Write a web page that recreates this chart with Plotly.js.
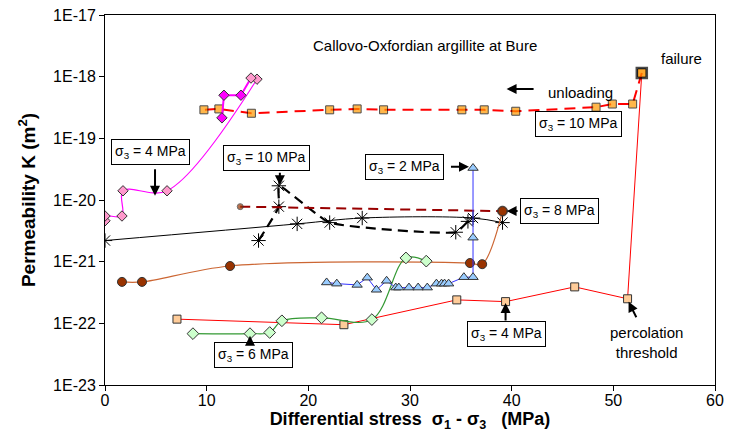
<!DOCTYPE html>
<html><head><meta charset="utf-8">
<script src="https://cdn.plot.ly/plotly-3.0.1.min.js"></script>
<style>html,body{margin:0;padding:0;background:#fff}</style>
</head><body><div id="chart" style="width:729px;height:443px"></div>
<script>
// values: x = differential stress (MPa), y = permeability K (m2)
const unloadX = [52.8, 51.9, 49.9, 48.3, 40.4, 37.3, 35.1, 27.4, 24.8, 22.1, 14.4, 11.2, 9.73];
const unloadY = [1.15e-18, 3.6e-19, 3.6e-19, 3.2e-19, 2.75e-19, 2.9e-19, 2.9e-19, 2.9e-19, 3.0e-19, 2.9e-19, 2.55e-19, 3.0e-19, 2.9e-19];
const s4redX = [7.08, 23.5, 34.6, 39.4, 46.2, 51.4, 52.8];
const s4redY = [1.17e-22, 9.5e-23, 2.4e-22, 2.25e-22, 3.9e-22, 2.5e-22, 1.15e-18];
const s4pinkX = [0, 0, 1.67, 1.77, 6.1, 14.95];
const s4pinkY = [4.6e-21, 5.5e-21, 5.5e-21, 1.41e-20, 1.41e-20, 9.1e-19];
const s4magX = [11.5, 11.7, 13.37, 14.36];
const s4magY = [2.15e-19, 5.0e-19, 5.0e-19, 9.5e-19];
const s10solidX = [0, 18.9, 25.3, 36.2, 39.1];
const s10solidY = [2.2e-21, 4.1e-21, 5.1e-21, 5.1e-21, 4.3e-21];
const s10dashX = [15.1, 17.1, 17.1, 22.1, 34.5, 35.7];
const s10dashY = [2.2e-21, 7.8e-21, 1.7e-20, 4.3e-21, 3.0e-21, 4.5e-21];
const s8X = [13.3, 39.1];
const s8Y = [7.8e-21, 6.6e-21];
const brownX = [1.67, 3.64, 12.3, 35.9, 37.1, 39.1];
const brownY = [4.7e-22, 4.7e-22, 8.5e-22, 9.5e-22, 9.1e-22, 6.6e-21];
const greenX = [8.65, 14.26, 16.2, 17.4, 21.3, 26.25, 29.6, 31.6];
const greenY = [6.8e-23, 6.8e-23, 7.1e-23, 1.1e-22, 1.23e-22, 1.15e-22, 1.15e-21, 1.02e-21];
const blueX = [21.8, 22.8, 24.8, 25.8, 26.7, 27.7, 28.6, 28.9, 29.9, 30.8, 31.7, 32.6, 33.1, 33.4, 33.8, 35.3, 36.2, 36.2, 36.2];
const blueY = [4.6e-22, 4.4e-22, 4.2e-22, 5.5e-22, 3.5e-22, 4.9e-22, 3.8e-22, 3.8e-22, 3.8e-22, 3.8e-22, 3.8e-22, 4.4e-22, 4.4e-22, 4.4e-22, 4.4e-22, 5.6e-22, 5.6e-22, 2.45e-21, 3.3e-20];
const yTickVals = [1e-23, 1e-22, 1e-21, 1e-20, 1e-19, 1e-18, 1e-17];
const yTickText = ['1E-23', '1E-22', '1E-21', '1E-20', '1E-19', '1E-18', '1E-17'];
const xTickVals = [0, 10, 20, 30, 40, 50, 60];

const dia = (fill, size) => ({symbol: 'diamond', size: size || 8, color: fill, line: {color: '#333', width: 1}});
const traces = [
  {x: s4redX, y: s4redY, mode: 'lines+markers', line: {color: '#FF0000', width: 1},
   marker: {symbol: 'square', size: 8, color: '#FFCC99', line: {color: '#333', width: 1}}},
  {x: unloadX, y: unloadY, mode: 'lines+markers', line: {color: '#FF0000', width: 2, dash: '11px,7px'},
   marker: {symbol: 'square', size: [10, 8, 8, 8, 8, 8, 8, 8, 8, 8, 8, 8, 8], color: '#FF9900',
     line: {color: '#000', width: [2.5, 1, 1, 1, 1, 1, 1, 1, 1, 1, 1, 1, 1]}}},
  {x: s4pinkX, y: s4pinkY, mode: 'lines+markers', line: {color: '#FF00FF', width: 1.2, shape: 'spline'},
   marker: dia('#FF99CC')},
  {x: s4magX, y: s4magY, mode: 'lines+markers', line: {color: '#FF00FF', width: 2},
   marker: {symbol: 'diamond', size: 8, color: ['#FF00FF', '#FF00FF', '#FF00FF', '#FF99CC'], line: {color: '#333', width: 1}}},
  {x: s10solidX, y: s10solidY, mode: 'lines+markers', line: {color: '#000', width: 1, shape: 'spline'},
   marker: {symbol: 'asterisk-open', size: 12, line: {color: '#000', width: 1}}},
  {x: s10dashX, y: s10dashY, mode: 'lines+markers', line: {color: '#000', width: 2.2, dash: '10px,6px', shape: 'spline', smoothing: 0.4},
   marker: {symbol: 'asterisk-open', size: 12, line: {color: '#000', width: 1}}},
  {x: s8X, y: s8Y, mode: 'lines+markers', line: {color: '#990000', width: 2, dash: '10px,6px'},
   marker: {symbol: 'circle', size: [6, 10], color: '#993300', line: {color: '#333', width: 1}}},
  {x: brownX, y: brownY, mode: 'lines+markers', line: {color: '#CC6633', width: 1.2, shape: 'spline'},
   marker: {symbol: 'circle', size: 9, color: '#993300', line: {color: '#333', width: 1}}},
  {x: greenX, y: greenY, mode: 'lines+markers', line: {color: '#339933', width: 1.2, shape: 'spline'},
   marker: dia('#CCFFCC', 9)},
  {x: blueX, y: blueY, mode: 'lines+markers', line: {color: '#3333FF', width: 1},
   marker: {symbol: 'triangle-up', size: 9, color: '#99CCFF', line: {color: '#333', width: 1}}}
];

const FAM = 'Liberation Sans, Arial, sans-serif';
const F = {family: FAM, size: 14, color: '#000'};
const box = (x, y, t) => ({x: x, y: y, xref: 'x', yref: 'y', text: t, showarrow: false, font: F,
  bgcolor: '#fff', bordercolor: '#000', borderwidth: 1, borderpad: 3});
const arr = (x, y, ax, ay) => ({x: x, y: y, xref: 'x', yref: 'y', ax: ax, ay: ay, text: ' ', showarrow: true,
  arrowhead: 2, arrowsize: 1, arrowwidth: 2, arrowcolor: '#000', font: {size: 2}});
const txt = (x, y, t, sz) => ({x: x, y: y, xref: 'x', yref: 'y', text: t, showarrow: false,
  font: {family: FAM, size: sz || 15, color: '#000'}});

const annotations = [
  txt(31.5, -17.49, 'Callovo-Oxfordian argillite at Bure', 15),
  txt(56.7, -17.71, 'failure', 15),
  txt(46.8, -18.25, 'unloading', 15),
  txt(53.3, -22.31, 'percolation<br>threshold', 15),
  box(4.52, -19.22, 'σ<sub>3</sub> = 4 MPa'),
  box(15.9, -19.32, 'σ<sub>3</sub> = 10 MPa'),
  box(46.6, -18.77, 'σ<sub>3</sub> = 10 MPa'),
  box(29.5, -19.46, 'σ<sub>3</sub> = 2 MPa'),
  box(44.7, -20.18, 'σ<sub>3</sub> = 8 MPa'),
  box(14.65, -22.51, 'σ<sub>3</sub> = 6 MPa'),
  box(39.5, -22.17, 'σ<sub>3</sub> = 4 MPa'),
  arr(39.5, -18.20, 29, 0),
  arr(4.92, -19.93, 0, -29),
  arr(17.2, -19.76, 0, -15),
  arr(35.8, -19.46, -20, 0),
  arr(39.5, -20.18, 13, 0),
  arr(14.26, -22.20, 0, 10),
  arr(39.4, -21.67, 0, 20),
  arr(51.5, -21.65, 9, 18)
];

const layout = {
  width: 729, height: 443,
  margin: {l: 105, r: 14, t: 15, b: 58},
  paper_bgcolor: '#fff', plot_bgcolor: '#fff',
  showlegend: false,
  font: F,
  xaxis: {range: [0, 60], tickvals: xTickVals, ticks: 'outside', ticklen: 5, tickcolor: '#000',
    ticklabelstandoff: -4,
    showgrid: false, zeroline: false, showline: true, linecolor: '#000', linewidth: 1, mirror: true,
    tickfont: {family: FAM, size: 16, color: '#000'},
    title: {text: 'Differential stress  σ<sub>1</sub> - σ<sub>3</sub>   (MPa)', standoff: 0,
      font: {family: FAM, size: 18, color: '#000', weight: 'bold'}}},
  yaxis: {type: 'log', range: [-23, -17], tickvals: yTickVals, ticktext: yTickText, ticks: 'outside', ticklen: 5,
    tickcolor: '#000', showgrid: false, zeroline: false, showline: true, linecolor: '#000', linewidth: 1, mirror: true,
    tickfont: {family: FAM, size: 16, color: '#000'},
    title: {text: 'Permeability K (m<sup>2</sup>)', standoff: 12,
      font: {family: FAM, size: 19, color: '#000', weight: 'bold'}}},
  annotations: annotations
};
Plotly.newPlot('chart', traces, layout, {displayModeBar: false, staticPlot: true});
</script></body></html>
